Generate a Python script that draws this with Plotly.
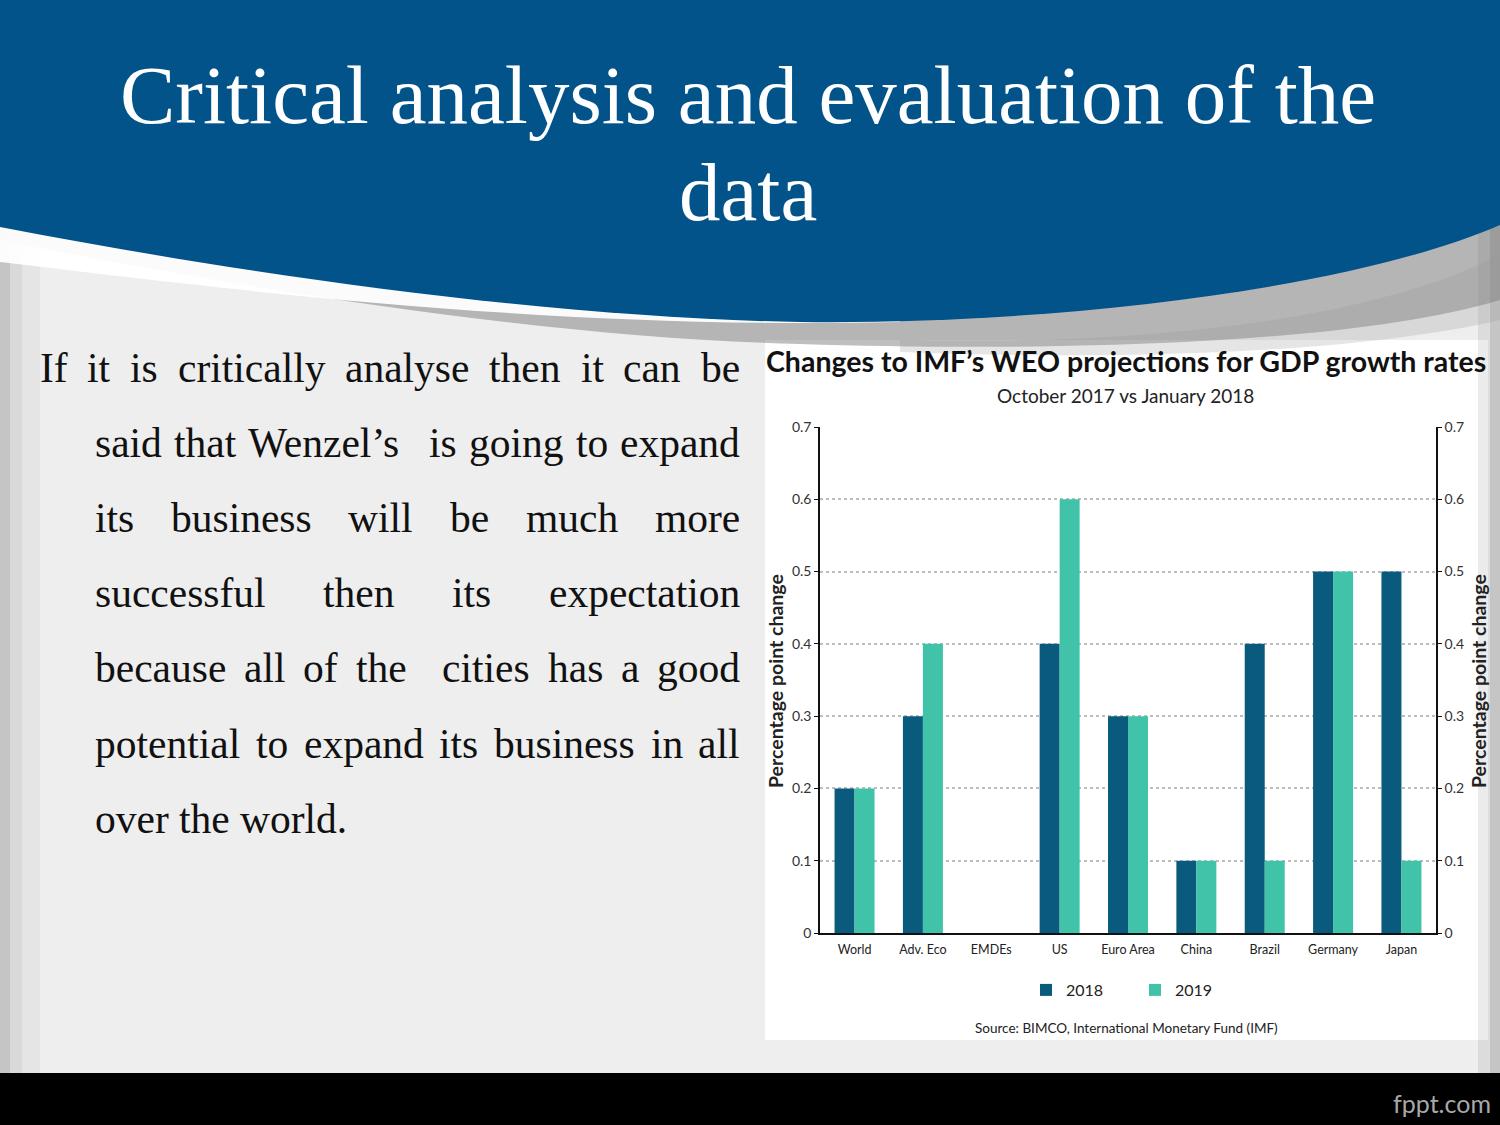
import plotly.graph_objects as go

# ---------------- data ----------------
categories = ["World", "Adv. Eco", "EMDEs", "US", "Euro Area", "China", "Brazil", "Germany", "Japan"]
values_2018 = [0.2, 0.3, 0.0, 0.4, 0.3, 0.1, 0.4, 0.5, 0.5]
values_2019 = [0.2, 0.4, 0.0, 0.6, 0.3, 0.1, 0.1, 0.5, 0.1]
series_names = ["2018", "2019"]
y_tick_vals = [0, 0.1, 0.2, 0.3, 0.4, 0.5, 0.6, 0.7]
y_tick_text = ["0", "0.1", "0.2", "0.3", "0.4", "0.5", "0.6", "0.7"]

slide_title = ["Critical analysis and evaluation of the", "data"]
body_lines = [
    "If it is critically analyse then it can be",
    "said that Wenzel’s  is going to expand",
    "its business will be much more",
    "successful then its expectation",
    "because all of the  cities has a good",
    "potential to expand its business in all",
    "over the world.",
]
chart_title = "Changes to IMF’s WEO projections for GDP growth rates"
chart_subtitle = "October 2017 vs January 2018"
axis_title = "Percentage point change"
source_text = "Source: BIMCO, International Monetary Fund (IMF)"
brand_text = "fppt.com"

# ---------------- helpers ----------------
W, H = 1500, 1125


def px(x):
    return x / W


def py(y):
    return 1 - y / H


def path(cmds):
    out = []
    for cmd, pts in cmds:
        coords = " ".join(f"{px(x):.5f},{py(y):.5f}" for x, y in pts)
        out.append(f"{cmd}{coords}")
    return " ".join(out) + " Z"


# Times / Liberation Serif advance widths (1/1000 em)
TW = {' ': 250, 'a': 444, 'b': 500, 'c': 444, 'd': 500, 'e': 444, 'f': 333, 'g': 500, 'h': 500,
      'i': 278, 'j': 278, 'k': 500, 'l': 278, 'm': 778, 'n': 500, 'o': 500, 'p': 500, 'q': 500,
      'r': 333, 's': 389, 't': 278, 'u': 500, 'v': 500, 'w': 722, 'x': 500, 'y': 500, 'z': 444,
      'I': 333, 'W': 944, '’': 333, '.': 250}


def text_width(s, fs):
    return sum(TW.get(c, 500) for c in s) / 1000 * fs


DARK = "#0a5a7d"
TEAL = "#40c3a9"
BLUE = "#03538b"

fig = go.Figure()
fig.add_trace(go.Bar(name=series_names[0], x=categories, y=values_2018,
                     marker=dict(color=DARK, line=dict(width=0)), hoverinfo="skip"))
fig.add_trace(go.Bar(name=series_names[1], x=categories, y=values_2019,
                     marker=dict(color=TEAL, line=dict(width=0)), hoverinfo="skip"))
# invisible companion trace for right axis
fig.add_trace(go.Scatter(x=categories, y=values_2018, yaxis="y2", mode="markers",
                         marker=dict(opacity=0), showlegend=False, hoverinfo="skip"))

shapes = []
# chart panel
shapes.append(dict(type="rect", xref="paper", yref="paper", x0=px(765), x1=px(1488), y0=py(1040), y1=py(340),
                   fillcolor="white", line=dict(width=0), layer="below"))
# edge shading
for x0, x1, op in [(0, 10, 0.35), (10, 22, 0.18), (22, 40, 0.07), (1490, 1500, 0.35), (1478, 1490, 0.15)]:
    shapes.append(dict(type="rect", xref="paper", yref="paper", x0=px(x0), x1=px(x1), y0=py(1073), y1=py(0),
                       fillcolor=f"rgba(120,120,120,{op})", line=dict(width=0), layer="below"))
# header shadow
shapes.append(dict(type="path", xref="paper", yref="paper", layer="below",
                   path=path([("M", [(0, 0)]), ("L", [(1500, 0)]), ("L", [(1500, 300)]),
                              ("C", [(1350, 345), (1050, 352), (800, 344)]),
                              ("C", [(550, 338), (250, 290), (0, 240)])]),
                   fillcolor="rgba(95,95,95,0.40)", line=dict(width=0)))
shapes.append(dict(type="path", xref="paper", yref="paper", layer="below",
                   path=path([("M", [(1500, 255)]), ("L", [(1500, 320)]),
                              ("C", [(1350, 355), (1100, 360), (900, 352)]),
                              ("L", [(900, 340)]),
                              ("C", [(1100, 345), (1350, 330), (1500, 255)])]),
                   fillcolor="rgba(150,150,150,0.25)", line=dict(width=0)))
# white highlight on the left
shapes.append(dict(type="path", xref="paper", yref="paper", layer="below",
                   path=path([("M", [(0, 0)]), ("L", [(900, 0)]), ("L", [(900, 322)]),
                              ("C", [(560, 330), (250, 292), (0, 262)])]),
                   fillcolor="rgba(255,255,255,0.95)", line=dict(width=0)))
# blue header band
shapes.append(dict(type="path", xref="paper", yref="paper", layer="below",
                   path=path([("M", [(0, 0)]), ("L", [(1500, 0)]), ("L", [(1500, 225)]),
                              ("C", [(1350, 290), (1050, 325), (800, 322)]),
                              ("C", [(550, 318), (250, 275), (0, 227)])]),
                   fillcolor=BLUE, line=dict(width=0)))
# footer bar
shapes.append(dict(type="rect", xref="paper", yref="paper", x0=0, x1=1, y0=0, y1=py(1073),
                   fillcolor="black", line=dict(width=0), layer="below"))

ann = []
# slide title
for txt, yc in zip(slide_title, [95, 192]):
    ann.append(dict(text=txt, xref="paper", yref="paper", x=px(748), y=py(yc), xanchor="center", yanchor="middle",
                    showarrow=False, font=dict(family="Liberation Serif", size=83, color="white")))

# justified body text
FS = 41.5
body_left = [40, 95, 95, 95, 95, 95, 95]
body_y = [368, 443, 518, 593, 668, 744, 819]
RIGHT = 740
for i, line in enumerate(body_lines):
    tokens = line.split(" ")
    start = body_left[i]
    justify = i < len(body_lines) - 1
    widths = [text_width(t, FS) for t in tokens]
    if justify and len(tokens) > 1:
        gap = (RIGHT - start - sum(widths)) / (len(tokens) - 1)
    else:
        gap = text_width(" ", FS)
    x = start
    for t, w in zip(tokens, widths):
        if t:
            ann.append(dict(text=t, xref="paper", yref="paper", x=px(x), y=py(body_y[i]), xanchor="left",
                            yanchor="middle", showarrow=False, borderpad=0, borderwidth=0,
                            font=dict(family="Liberation Serif", size=FS, color="#111111")))
        x += w + gap

# chart texts
ann.append(dict(text=f"<b>{chart_title}</b>", xref="paper", yref="paper", x=px(1126), y=py(361),
                xanchor="center", yanchor="middle", showarrow=False,
                font=dict(family="Lato", size=28.5, color="#111111")))
ann.append(dict(text=chart_subtitle, xref="paper", yref="paper", x=px(1125), y=py(395),
                xanchor="center", yanchor="middle", showarrow=False,
                font=dict(family="Lato", size=19, color="#222222")))
for xc in [776, 1479]:
    ann.append(dict(text=f"<b>{axis_title}</b>", xref="paper", yref="paper", x=px(xc), y=py(681),
                    xanchor="center", yanchor="middle", textangle=-90, showarrow=False,
                    font=dict(family="Lato", size=19.5, color="#222222")))
ann.append(dict(text=source_text, xref="paper", yref="paper", x=px(1126), y=py(1028),
                xanchor="center", yanchor="middle", showarrow=False,
                font=dict(family="Lato", size=13.5, color="#222222")))
ann.append(dict(text=brand_text, xref="paper", yref="paper", x=px(1493), y=py(1103),
                xanchor="right", yanchor="middle", showarrow=False,
                font=dict(family="Lato", size=25, color="#a8a8a8")))

axis_common = dict(range=[0, 0.7], tickvals=y_tick_vals, ticktext=y_tick_text, showline=True,
                   linecolor="#111111", linewidth=1.5, ticks="outside", ticklen=4, tickcolor="#111111",
                   tickfont=dict(family="Lato", size=14, color="#333333"), zeroline=False, fixedrange=True,
                   automargin=False)

fig.update_layout(
    width=W, height=H, autosize=False,
    margin=dict(l=0, r=0, t=0, b=0, pad=0, autoexpand=False),
    paper_bgcolor="#eeeeee", plot_bgcolor="rgba(0,0,0,0)",
    barmode="group", bargap=0.415, bargroupgap=0,
    xaxis=dict(domain=[px(820), px(1436)], showline=True, linecolor="#111111", linewidth=1.5,
               ticks="", ticklabelstandoff=4, tickfont=dict(family="Lato", size=12.5, color="#222222"),
               showgrid=False, fixedrange=True, automargin=False),
    yaxis=dict(domain=[py(933), py(427)], showgrid=True, gridcolor="#bdbdbd", gridwidth=1.5,
               griddash="dot", **axis_common),
    yaxis2=dict(overlaying="y", side="right", anchor="x", showgrid=False, **axis_common),
    legend=dict(orientation="h", x=px(1026), xanchor="left", y=py(990), yanchor="middle",
                font=dict(family="Lato", size=16, color="#222222"), bgcolor="rgba(0,0,0,0)",
                entrywidth=64, entrywidthmode="pixels", itemsizing="constant"),
    shapes=shapes, annotations=ann, hovermode=False,
)

fig.write_html("out.html", post_script="document.body.style.margin='0';document.body.style.overflow='hidden';")
